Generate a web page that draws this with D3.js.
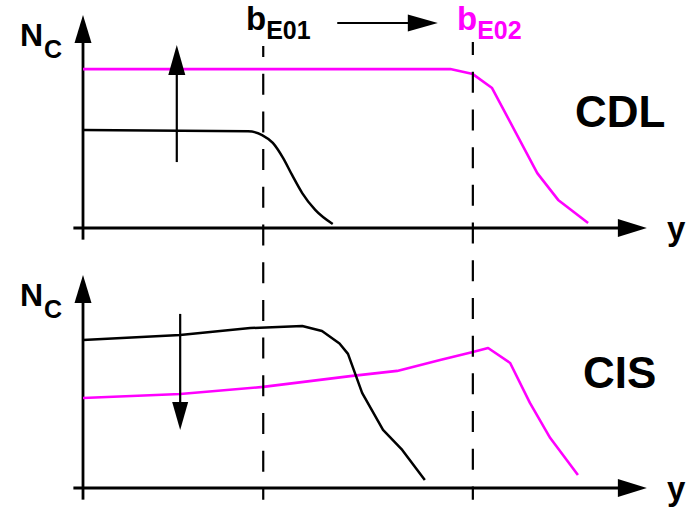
<!DOCTYPE html>
<html>
<head>
<meta charset="utf-8">
<script src="https://cdn.jsdelivr.net/npm/d3@7"></script>
<style>
  html, body { margin: 0; padding: 0; background: #fff; }
  svg { display: block; }
  text { font-family: "Liberation Sans", Arial, Helvetica, sans-serif; font-weight: bold; }
</style>
</head>
<body>
<script>
// ---------- data (abstract units: y-position 0..100, N_C 0..100) ----------
const bE01 = 31.9;
const bE02 = 69.0;

// CDL panel
const cdlBlackX   = [0, 29.2, 31.7, 33.6, 35.4, 37.0, 38.8, 41.1, 44.2];
const cdlBlackY   = [47.1, 46.5, 44.7, 40.9, 33.7, 25.5, 16.8, 8.7, 1.9];
const cdlMagentaX = [0, 65.0, 69.0, 72.4, 80.4, 84.1, 89.4];
const cdlMagentaY = [76.4, 76.4, 74.0, 67.3, 26.4, 13.5, 2.4];

// CIS panel
const cisBlackX   = [0, 17.2, 29.6, 38.8, 42.3, 45.4, 46.9, 49.4, 53.1, 56.5, 60.5];
const cisBlackY   = [71.2, 73.6, 76.9, 77.9, 75.5, 69.5, 64.5, 45.7, 27.9, 18.3, 3.8];
const cisMagentaX = [0, 17.2, 31.9, 47.3, 55.6, 63.2, 69.0, 71.7, 75.6, 79.1, 82.7, 87.6];
const cisMagentaY = [43.3, 45.2, 48.6, 53.8, 56.3, 61.5, 65.4, 67.3, 60.1, 40.9, 24.0, 6.25];

// annotation arrows [x, yFrom, yTo]
const cdlShiftArrow = [16.6, 31.7, 88.0];
const cisShiftArrow = [17.2, 83.7, 27.9];
const bShiftArrow   = [45.0, 62.8];

// labels
const axisYLabel = ["N", "C"];
const axisXLabel = "y";
const panelLabels = ["CDL", "CIS"];
const bLabels = [["b", "E01"], ["b", "E02"]];

// ---------- drawing ----------
const W = 694, H = 509;
const MAG = "#ff00ff";
const svg = d3.select("body").append("svg").attr("width", W).attr("height", H);
svg.append("rect").attr("width", W).attr("height", H).attr("fill", "#fff");

const x = d3.scaleLinear().domain([0, 100]).range([83, 648]);
const yTop = d3.scaleLinear().domain([0, 100]).range([228, 20]);
const yBot = d3.scaleLinear().domain([0, 100]).range([488, 280]);

function arrowHead(g, tipX, tipY, dir, len, half) {
  let pts;
  if (dir === "up") pts = [[tipX, tipY], [tipX - half, tipY + len], [tipX + half, tipY + len]];
  else if (dir === "down") pts = [[tipX, tipY], [tipX - half, tipY - len], [tipX + half, tipY - len]];
  else pts = [[tipX, tipY], [tipX - len, tipY - half], [tipX - len, tipY + half]];
  g.append("polygon").attr("points", pts.map(p => p.join(",")).join(" ")).attr("fill", "#000");
}

function drawPanel(yS, blackX, blackY, magX, magY, label, labelX, labelBase, smoothBlack) {
  const g = svg.append("g");
  g.append("line")
    .attr("x1", x(-1.7)).attr("x2", x(100) - 20)
    .attr("y1", yS(0)).attr("y2", yS(0))
    .attr("stroke", "#000").attr("stroke-width", 2.8);
  arrowHead(g, x(99.8), yS(0), "right", 29, 9);
  g.append("line")
    .attr("x1", x(0)).attr("x2", x(0))
    .attr("y1", yS(-5.6)).attr("y2", yS(102.4) + 20)
    .attr("stroke", "#000").attr("stroke-width", 2.8);
  arrowHead(g, x(0), yS(102.4), "up", 28, 8.5);

  const lin = d3.line().x(d => x(d[0])).y(d => yS(d[1]));
  const smooth = d3.line().x(d => x(d[0])).y(d => yS(d[1])).curve(d3.curveMonotoneX);
  g.append("path").datum(d3.zip(magX, magY))
    .attr("d", lin).attr("fill", "none").attr("stroke", MAG).attr("stroke-width", 2.6)
    .attr("stroke-linejoin", "round");
  g.append("path").datum(d3.zip(blackX, blackY))
    .attr("d", smoothBlack ? smooth : lin).attr("fill", "none").attr("stroke", "#000").attr("stroke-width", 2.5)
    .attr("stroke-linejoin", "round");

  const t = g.append("text").attr("x", 20).attr("y", yS(0) - 182).attr("font-size", 32).attr("fill", "#000");
  t.append("tspan").text(axisYLabel[0]);
  t.append("tspan").attr("font-size", 25).attr("dy", 12).attr("dx", 1).text(axisYLabel[1]);
  g.append("text").attr("x", 667).attr("y", yS(0) + 12).attr("font-size", 33).attr("fill", "#000").text(axisXLabel);
  g.append("text").attr("x", labelX).attr("y", labelBase).attr("font-size", 44).attr("fill", "#000").text(label);
  return g;
}

drawPanel(yTop, cdlBlackX, cdlBlackY, cdlMagentaX, cdlMagentaY, panelLabels[0], 575, 127, true);
drawPanel(yBot, cisBlackX, cisBlackY, cisMagentaX, cisMagentaY, panelLabels[1], 583, 388, false);

[[bE01, yTop(87.5), 10], [bE02, yTop(89.4), 8]].forEach(([bx, y1, off]) => {
  svg.append("line")
    .attr("x1", x(bx)).attr("x2", x(bx))
    .attr("y1", y1).attr("y2", yBot(-5.7))
    .attr("stroke", "#000").attr("stroke-width", 2.2)
    .attr("stroke-dasharray", "21,16.7").attr("stroke-dashoffset", off);
});

{
  const [ax, a0, a1] = cdlShiftArrow;
  svg.append("line").attr("x1", x(ax)).attr("x2", x(ax))
    .attr("y1", yTop(a0)).attr("y2", yTop(a1) + 25)
    .attr("stroke", "#000").attr("stroke-width", 2.2);
  arrowHead(svg, x(ax), yTop(a1), "up", 30, 8.5);
}
{
  const [ax, a0, a1] = cisShiftArrow;
  svg.append("line").attr("x1", x(ax)).attr("x2", x(ax))
    .attr("y1", yBot(a0)).attr("y2", yBot(a1) - 25)
    .attr("stroke", "#000").attr("stroke-width", 2.2);
  arrowHead(svg, x(ax), yBot(a1), "down", 28, 8);
}
{
  const [a0, a1] = bShiftArrow;
  svg.append("line").attr("x1", x(a0)).attr("x2", x(a1) - 25)
    .attr("y1", 23).attr("y2", 23)
    .attr("stroke", "#000").attr("stroke-width", 2.2);
  arrowHead(svg, x(a1), 23, "right", 30, 8.5);
}

[[bLabels[0], 246, "#000"], [bLabels[1], 457, MAG]].forEach(([lab, lx, col]) => {
  const t = svg.append("text").attr("x", lx).attr("y", 30).attr("font-size", 33).attr("fill", col);
  t.append("tspan").text(lab[0]);
  t.append("tspan").attr("font-size", 25).attr("dy", 9).text(lab[1]);
});
</script>
</body>
</html>
